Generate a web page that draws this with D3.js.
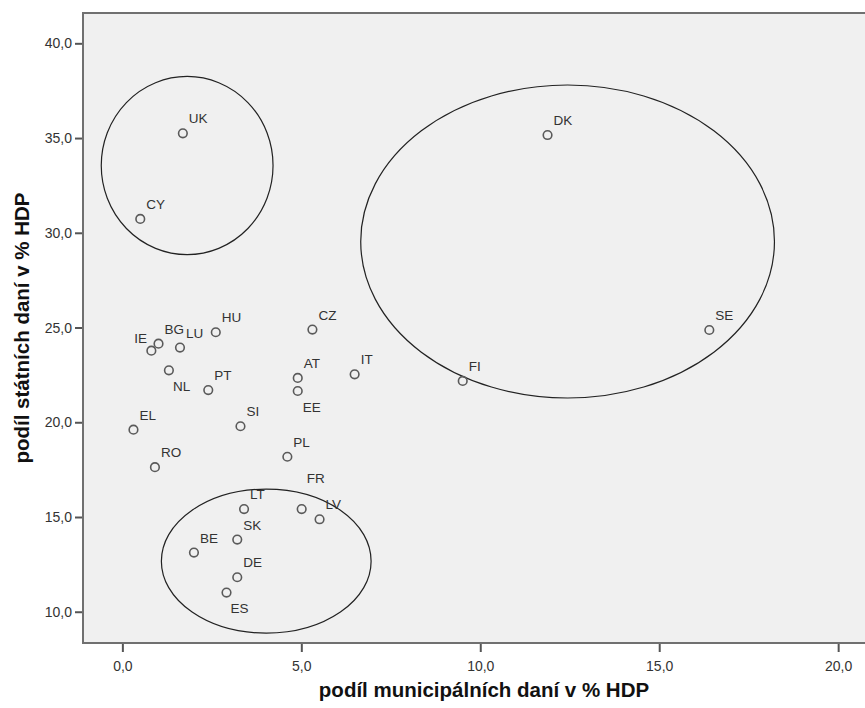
<!DOCTYPE html>
<html>
<head>
<meta charset="utf-8">
<script src="https://cdn.jsdelivr.net/npm/d3@7"></script>
<style>
  html, body { margin: 0; padding: 0; background: #fff; }
  svg { display: block; font-family: "Liberation Sans", Arial, sans-serif; }
  .tick text { fill: #333; font-size: 14px; }
  .tick line { stroke: #555; stroke-width: 2; }
  .pt-label { fill: #333; font-size: 13.5px; }
  .axis-title { fill: #111; font-size: 20.5px; font-weight: bold; }
</style>
</head>
<body>
<div id="chart"></div>
<script>
// country codes
const countries = ["UK", "CY", "DK", "SE", "FI", "IT", "IE", "BG", "LU", "HU", "NL", "PT",
    "CZ", "AT", "EE", "EL", "SI", "RO", "PL", "LT", "FR", "LV", "SK", "BE", "DE", "ES"];
// podíl municipálních daní v % HDP
const municipal = [1.69, 0.50, 11.88, 16.40, 9.51, 6.49, 0.81, 1.01, 1.61, 2.61, 1.30, 2.40,
    5.31, 4.90, 4.90, 0.31, 3.30, 0.91, 4.61, 3.40, 5.01, 5.51, 3.21, 2.00, 3.21, 2.91];
// podíl státních daní v % HDP
const state = [35.25, 30.73, 35.16, 24.87, 22.18, 22.53, 23.78, 24.15, 23.94, 24.75, 22.74, 21.70,
    24.89, 22.34, 21.65, 19.61, 19.79, 17.63, 18.18, 15.42, 15.42, 14.88, 13.81, 13.12, 11.82, 11.01];

const xTicks = [0, 5, 10, 15, 20];
const yTicks = [10, 15, 20, 25, 30, 35, 40];

// zakreslené skupiny (střed a poloosy v jednotkách os)
const groupCx = [1.81, 12.44, 4.02];
const groupCy = [33.55, 29.54, 12.67];
const groupRx = [2.40, 5.78, 2.93];
const groupRy = [4.70, 8.26, 3.80];

const width = 865, height = 708;
// pravý okraj grafu leží mimo obrázek
const plot = {left: 83, top: 13, right: 865, bottom: 643, fullRight: 885};

const svg = d3.select("#chart").append("svg")
    .attr("width", width)
    .attr("height", height);

const x = d3.scaleLinear().domain([-1.1, 20.75]).range([plot.left, plot.right]);
const y = d3.scaleLinear().domain([8.35, 41.6]).range([plot.bottom, plot.top]);

// pozadí grafu
svg.append("rect")
    .attr("x", plot.left)
    .attr("y", plot.top)
    .attr("width", plot.fullRight - plot.left)
    .attr("height", plot.bottom - plot.top)
    .attr("fill", "#f0f0f0")
    .attr("stroke", "#707070")
    .attr("stroke-width", 2);

const fmt = v => d3.format(".1f")(v).replace(".", ",");

// osy
const xAxis = svg.append("g")
    .attr("transform", `translate(0,${plot.bottom + 1})`)
    .call(d3.axisBottom(x).tickValues(xTicks).tickFormat(fmt).tickSize(8).tickSizeOuter(0).tickPadding(9));
xAxis.select(".domain").remove();

const yAxis = svg.append("g")
    .attr("transform", `translate(${plot.left - 1},0)`)
    .call(d3.axisLeft(y).tickValues(yTicks).tickFormat(fmt).tickSize(7).tickSizeOuter(0).tickPadding(3));
yAxis.select(".domain").remove();

svg.selectAll(".tick text").attr("font-family", null).attr("font-size", null);

// elipsy
const groups = groupCx.map((cx, i) => ({cx, cy: groupCy[i], rx: groupRx[i], ry: groupRy[i]}));
svg.append("g").selectAll("ellipse")
    .data(groups)
    .enter()
    .append("ellipse")
    .attr("cx", d => x(d.cx))
    .attr("cy", d => y(d.cy))
    .attr("rx", d => x(d.rx) - x(0))
    .attr("ry", d => y(0) - y(d.ry))
    .attr("fill", "none")
    .attr("stroke", "#222")
    .attr("stroke-width", 1.2);

const points = countries.map((c, i) => ({id: c, x: municipal[i], y: state[i]}));

// body
svg.append("g").selectAll("circle")
    .data(points)
    .enter()
    .append("circle")
    .attr("cx", d => x(d.x))
    .attr("cy", d => y(d.y))
    .attr("r", 4.3)
    .attr("fill", "none")
    .attr("stroke", "#5a5a5a")
    .attr("stroke-width", 1.6);

// popisky - výjimky z umístění vpravo nahoře
const labelShift = {
    IE: [-17, -8],
    NL: [4, 21],
    EE: [5, 21],
    FR: [5, -26],
    ES: [4, 20]
};

svg.append("g").selectAll("text")
    .data(points)
    .enter()
    .append("text")
    .attr("class", "pt-label")
    .attr("x", d => x(d.x) + (labelShift[d.id] ? labelShift[d.id][0] : 6))
    .attr("y", d => y(d.y) + (labelShift[d.id] ? labelShift[d.id][1] : -10))
    .text(d => d.id);

// názvy os - na střed celé plochy grafu
svg.append("text")
    .attr("class", "axis-title")
    .attr("text-anchor", "middle")
    .attr("x", (plot.left + plot.fullRight) / 2)
    .attr("y", 697)
    .text("podíl municipálních daní v % HDP");

svg.append("text")
    .attr("class", "axis-title")
    .attr("text-anchor", "middle")
    .attr("transform", `translate(29,${(plot.top + plot.bottom) / 2}) rotate(-90)`)
    .text("podíl státních daní v % HDP");
</script>
</body>
</html>
